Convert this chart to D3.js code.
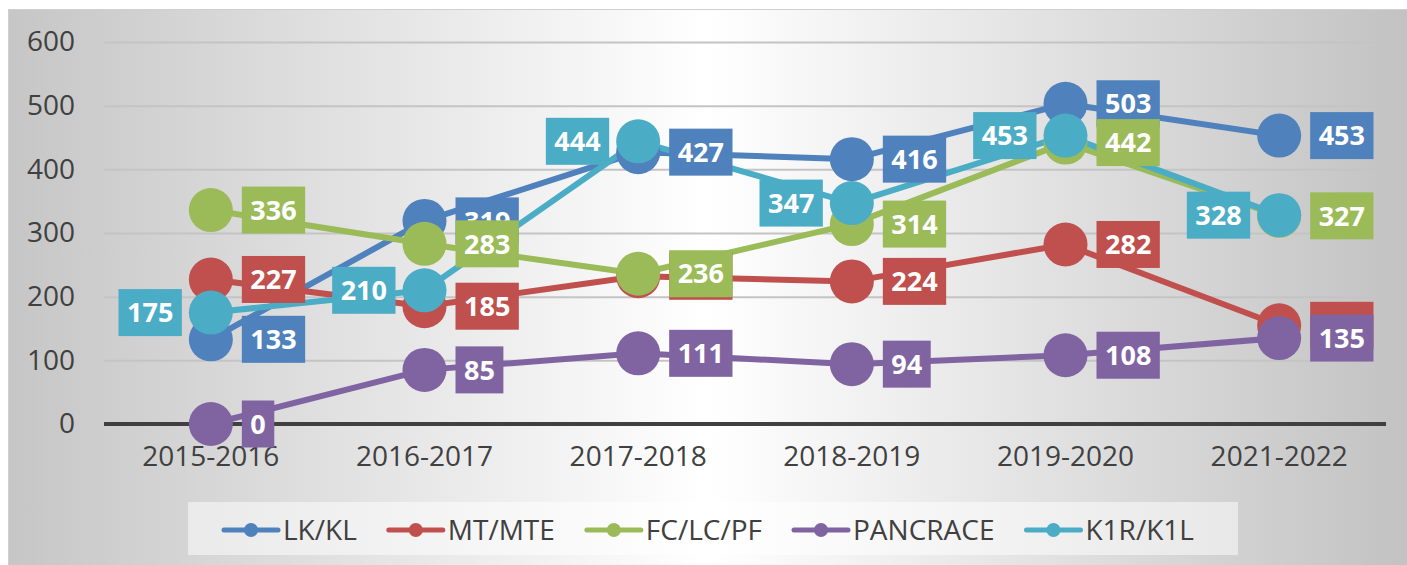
<!DOCTYPE html>
<html>
<head>
<meta charset="utf-8">
<script src="https://cdn.jsdelivr.net/npm/d3@7"></script>
<style>
  body { margin: 0; background: #fff; }
  svg { display: block; font-family: "Open Sans", "Noto Sans", sans-serif; }
</style>
</head>
<body>
<svg id="chart" width="1407" height="565"></svg>
<script>
// chart data
var seasons = ["2015-2016", "2016-2017", "2017-2018", "2018-2019", "2019-2020", "2021-2022"];
var seriesNames = ["LK/KL", "MT/MTE", "FC/LC/PF", "PANCRACE", "K1R/K1L"];
var lkkl = [133, 319, 427, 416, 503, 453];
var mtmte = [227, 185, 232, 224, 282, 155];
var fclcpf = [336, 283, 236, 314, 442, 327];
var pancrace = [0, 85, 111, 94, 108, 135];
var k1rk1l = [175, 210, 444, 347, 453, 328];
var yTicks = [0, 100, 200, 300, 400, 500, 600];

var colors = ["#4F81BD", "#C0504D", "#9BBB59", "#8064A2", "#4BACC6"];
var series = [lkkl, mtmte, fclcpf, pancrace, k1rk1l].map(function(vals, i) {
  return { name: seriesNames[i], values: vals, color: colors[i], labelLeft: i === 4 };
});

var font = "'Open Sans', 'Noto Sans', sans-serif";
var svg = d3.select("#chart");

// background gradient: grey at the sides, white in the middle
var defs = svg.append("defs");
var grad = defs.append("linearGradient").attr("id", "bg")
  .attr("x1", "0%").attr("y1", "0%").attr("x2", "100%").attr("y2", "0%");
grad.append("stop").attr("offset", "0%").attr("stop-color", "#c6c6c6");
grad.append("stop").attr("offset", "50%").attr("stop-color", "#ffffff");
grad.append("stop").attr("offset", "100%").attr("stop-color", "#c2c2c2");

svg.append("rect")
  .attr("x", 8.5).attr("y", 9.5).attr("width", 1400).attr("height", 556)
  .attr("fill", "url(#bg)").attr("stroke", "#d0d0d0").attr("stroke-width", 1);

var xScale = d3.scaleBand().domain(seasons).range([104, 1386]);
var yScale = d3.scaleLinear().domain([0, 600]).range([424, 42]);
var cx = function(d) { return xScale(d) + xScale.bandwidth() / 2; };

// y axis + grid
var yAxis = svg.append("g").attr("transform", "translate(104,0)")
  .call(d3.axisLeft(yScale).tickValues(yTicks).tickSize(-1282).tickPadding(29))
  .attr("font-family", font).attr("font-size", null);
yAxis.select(".domain").remove();
yAxis.selectAll("line").attr("stroke", "#c4c4c4").attr("stroke-width", 2);
yAxis.selectAll("text").attr("fill", "#404040").style("font-size", "28px");

// zero line
svg.append("line")
  .attr("x1", 104).attr("x2", 1386).attr("y1", yScale(0)).attr("y2", yScale(0))
  .attr("stroke", "#404040").attr("stroke-width", 4);

// x axis
var xAxis = svg.append("g").attr("transform", "translate(0," + yScale(0) + ")")
  .call(d3.axisBottom(xScale).tickSize(0).tickPadding(22))
  .attr("font-family", font).attr("font-size", null);
xAxis.select(".domain").remove();
xAxis.selectAll("text").attr("fill", "#404040").style("font-size", "28px");

var line = d3.line()
  .x(function(d, i) { return cx(seasons[i]); })
  .y(function(d) { return yScale(d); });

// lines first
svg.append("g").selectAll("path")
  .data(series).enter().append("path")
  .attr("d", function(s) { return line(s.values); })
  .attr("fill", "none")
  .attr("stroke", function(s) { return s.color; })
  .attr("stroke-width", 6)
  .attr("stroke-linejoin", "round");

// markers
series.forEach(function(s) {
  svg.append("g").selectAll("circle")
    .data(s.values).enter().append("circle")
    .attr("cx", function(d, i) { return cx(seasons[i]); })
    .attr("cy", function(d) { return yScale(d); })
    .attr("r", 22)
    .attr("fill", s.color);
});

// data labels
series.forEach(function(s) {
  var g = svg.append("g");
  s.values.forEach(function(v, i) {
    var lg = g.append("g");
    var t = lg.append("text")
      .text(v)
      .attr("fill", "#fff")
      .attr("font-weight", "bold")
      .style("font-size", "27px")
      .attr("text-anchor", "middle")
      .attr("dy", "0.36em");
    var w = t.node().getComputedTextLength() + 17;
    var x0 = s.labelLeft ? cx(seasons[i]) - 29 - w : cx(seasons[i]) + 31;
    var yc = yScale(v);
    lg.insert("rect", "text")
      .attr("x", x0).attr("y", yc - 23.5)
      .attr("width", w).attr("height", 47)
      .attr("fill", s.color);
    t.attr("x", x0 + w / 2).attr("y", yc);
  });
});

// legend
svg.append("rect")
  .attr("x", 188).attr("y", 502).attr("width", 1050).attr("height", 53)
  .attr("fill", "#ffffff").attr("fill-opacity", 0.5);

var lx = 224;
var ly = 530;
series.forEach(function(s) {
  var item = svg.append("g");
  item.append("line")
    .attr("x1", lx).attr("x2", lx + 54).attr("y1", ly).attr("y2", ly)
    .attr("stroke", s.color).attr("stroke-width", 5).attr("stroke-linecap", "round");
  item.append("circle")
    .attr("cx", lx + 27).attr("cy", ly).attr("r", 7).attr("fill", s.color);
  var t = item.append("text")
    .attr("x", lx + 59).attr("y", ly).attr("dy", "0.36em")
    .attr("fill", "#404040").style("font-size", "28px")
    .text(s.name);
  lx = lx + 59 + t.node().getComputedTextLength() + 32;
});
</script>
</body>
</html>
